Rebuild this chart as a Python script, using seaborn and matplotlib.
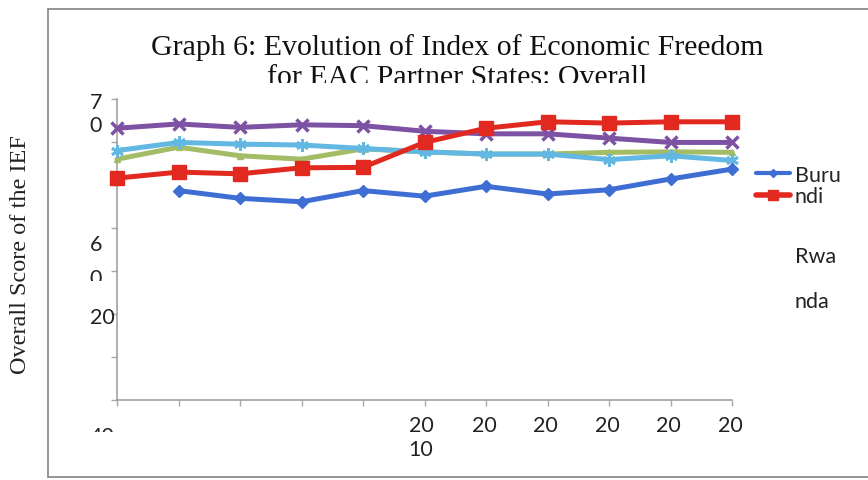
import numpy as np
import pandas as pd
import matplotlib
matplotlib.use("Agg")
import matplotlib.pyplot as plt
from matplotlib.lines import Line2D
from matplotlib.patches import Rectangle
import seaborn as sns

# ---------------- data ----------------
years = [2005, 2006, 2007, 2008, 2009, 2010, 2011, 2012, 2013, 2014, 2015]
burundi = [np.nan, 48.7, 46.9, 46.1, 48.7, 47.4, 49.7, 47.9, 48.9, 51.4, 53.7]
rwanda = [51.6, 53.0, 52.6, 54.0, 54.1, 59.9, 63.2, 64.7, 64.4, 64.7, 64.7]
tanzania = [56.0, 58.8, 56.8, 56.0, 58.4, 57.7, 57.2, 57.2, 57.6, 57.7, 57.6]
uganda = [63.2, 64.2, 63.4, 64.0, 63.8, 62.5, 61.9, 61.9, 60.9, 59.9, 59.9]
kenya = [58.0, 59.9, 59.5, 59.3, 58.5, 57.7, 57.2, 57.2, 55.9, 56.8, 55.7]

title_line1 = "Graph 6: Evolution of Index of Economic Freedom"
title_line2 = "for EAC Partner States: Overall"
ylabel = "Overall Score of the IEF"
legend_labels = ["Buru", "ndi", "Rwa", "nda"]
ytick_fragments = ["7", "0", "6", "0", "20"]
xtick_fragments = ["20", "20", "20", "20", "20", "20"]
xtick_second = "10"

W, H = 868, 481
sns.set_theme(style="white")
plt.rcParams["font.family"] = ["Lato", "DejaVu Sans"]

fig = plt.figure(figsize=(W / 100, H / 100), dpi=100)
fig.patch.set_facecolor("white")


def fx(px):
    return px / W


def fy(py):
    return 1 - py / H


ax = fig.add_axes([fx(117), fy(401), fx(732) - fx(117), fy(100) - fy(401)])
ax.set_facecolor("white")

series = [
    ("Tanzania", tanzania, "#A3BD66", "^", 5, 1.0),
    ("Kenya", kenya, "#63B8E3", (6, 2, 0), 9, 2.0),
    ("Uganda", uganda, "#7D52A3", "x", 8, 2.5),
    ("Rwanda", rwanda, "#E2291F", "s", 10, 1.0),
    ("Burundi", burundi, "#3E6ED3", "D", 6, 1.0),
]
for name, vals, col, mk, ms, mew in series:
    df = pd.DataFrame({"year": years, "score": vals}).dropna()
    sns.lineplot(data=df, x="year", y="score", ax=ax, color=col, lw=3.6,
                 marker=mk, markersize=ms, markeredgewidth=mew,
                 markeredgecolor=col, markerfacecolor=col, legend=False,
                 clip_on=False, zorder=3)

ax.set_xlim(2005, 2015)
ax.set_ylim(0, 70)
ax.set_xticks(years)
ax.set_yticks(np.arange(0, 71, 10))
ax.set_xticklabels([])
ax.set_yticklabels([])
ax.set_xlabel("")
ax.set_ylabel("")
for s in ["top", "right"]:
    ax.spines[s].set_visible(False)
for s in ["left", "bottom"]:
    ax.spines[s].set_color("#9A9A9A")
    ax.spines[s].set_linewidth(1.1)
ax.tick_params(axis="both", which="major", direction="out", length=4,
               width=1, color="#A8A8A8", left=True, bottom=True)

# ---------------- outer chart border ----------------
for (x0, y0, x1, y1) in [(48, 10, 868, 10), (48, 10, 48, 478), (48, 478, 868, 478)]:
    fig.add_artist(Line2D([fx(x0), fx(x1)], [fy(y0), fy(y1)], transform=fig.transFigure,
                          color="#8C8C8C", lw=1.3))

# ---------------- title (second line clipped) ----------------
serif = ["Liberation Serif", "DejaVu Serif"]
fig.text(fx(457), fy(48), title_line1, ha="center", va="center",
         fontsize=21.5, family=serif, color="#111111")
t2 = fig.text(fx(457), fy(78), title_line2, ha="center", va="center",
              fontsize=21.5, family=serif, color="#111111", clip_on=True)
t2.set_clip_path(Rectangle((0, fy(84)), 1, 1, transform=fig.transFigure))

# ---------------- y label ----------------
fig.text(fx(21), fy(255), ylabel, rotation=90, ha="center", va="center",
         fontsize=17.5, family=serif, color="#222222")

# ---------------- broken tick labels ----------------
tk = dict(ha="center", va="center", fontsize=15.5, color="#222222")
fig.text(fx(96), fy(103), ytick_fragments[0], **tk)
fig.text(fx(96), fy(126), ytick_fragments[1], **tk)
fig.text(fx(96), fy(245), ytick_fragments[2], **tk)
t0 = fig.text(fx(96), fy(279), ytick_fragments[3], clip_on=True, **tk)
t0.set_clip_path(Rectangle((0, fy(282)), 1, 1, transform=fig.transFigure))
fig.text(fx(102), fy(318), ytick_fragments[4], **tk)

xpos = [421, 484, 545, 607, 668, 730]
for xp, lab in zip(xpos, xtick_fragments):
    fig.text(fx(xp), fy(426), lab, **tk)
fig.text(fx(421), fy(450), xtick_second, **tk)
tcut = fig.text(fx(102), fy(437), "40", clip_on=True, **tk)
tcut.set_clip_path(Rectangle((0, fy(433)), 1, 1, transform=fig.transFigure))

# ---------------- legend (truncated) ----------------
handles = [
    Line2D([], [], color="#3E6ED3", lw=3, marker="D", markersize=4.5),
    Line2D([], [], color="#E2291F", lw=4, marker="s", markersize=7),
]
leg = fig.legend(handles, legend_labels[:2], loc="upper left",
                 bbox_to_anchor=(fx(756), fy(166)), frameon=False,
                 fontsize=15.5, handlelength=1.6, handletextpad=0.2,
                 labelspacing=0.05, borderpad=0, borderaxespad=0)
fig.text(fx(795), fy(257), legend_labels[2], ha="left", va="center",
         fontsize=15.5, color="#222222")
fig.text(fx(795), fy(302), legend_labels[3], ha="left", va="center",
         fontsize=15.5, color="#222222")

fig.savefig("out.png", dpi=100, facecolor="white")
